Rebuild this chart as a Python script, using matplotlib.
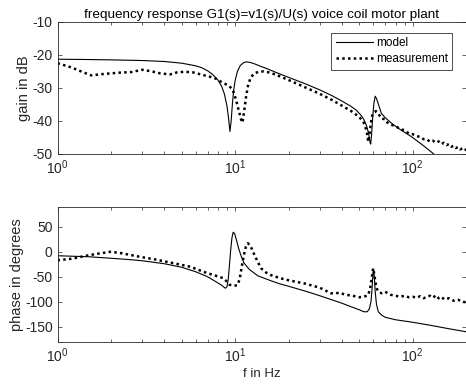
import numpy as np
import matplotlib
matplotlib.use("Agg")
import matplotlib.pyplot as plt
from matplotlib.ticker import LogLocator

plt.rcParams['font.family'] = ['Liberation Sans', 'DejaVu Sans']
plt.rcParams['axes.unicode_minus'] = False
plt.rcParams['mathtext.default'] = 'regular'

# gain, model (solid)
f_gain_model = [1, 1.5, 2, 3, 4, 5, 6, 6.5, 7, 7.5, 8, 8.4, 8.7, 9.0, 9.2, 9.35, 9.5, 9.65,
                9.8, 10.0, 10.3, 10.7, 11.2, 11.6, 12.2, 13, 14, 15, 17, 20, 25, 30, 35, 40,
                45, 48, 51, 53, 55, 56.5, 57.5, 58, 58.7, 59.5, 60.5, 61.5, 62.5, 64, 66.6,
                70, 76, 85, 98, 115, 130, 145]
gain_model = [-21.3, -21.4, -21.5, -21.7, -22.0, -22.5, -23.3, -23.9, -24.8, -26.0, -27.6,
              -29.5, -31.8, -35.5, -39.5, -43.2, -40, -35, -31, -27.8, -25, -23.2, -22.3,
              -22.1, -22.3, -22.8, -23.5, -24.1, -25.3, -26.8, -28.8, -30.6, -32.3, -34.0,
              -35.6, -36.7, -38.2, -39.5, -41.5, -43.8, -46.5, -47, -44, -39, -34.5, -32.5,
              -33.2, -34.8, -37.7, -39.0, -40.7, -42.6, -44.7, -47.5, -49.8, -51.8]

# gain, measurement (dotted)
f_gain_meas = [1, 1.2, 1.4, 1.55, 1.8, 2.2, 2.6, 3.0, 3.4, 3.8, 4.3, 4.7, 5.2, 5.8, 6.5, 7.2,
               7.8, 8.5, 9.2, 9.7, 10.1, 10.5, 10.8, 11.0, 11.25, 11.5, 11.8, 12.2, 12.8,
               13.6, 14.5, 15.5, 17, 20, 25, 30, 35, 40, 45, 50, 53, 55, 56.2, 57, 58, 59,
               60, 62, 64, 67, 70, 72, 76, 80, 85, 90, 95, 100, 105, 110, 115, 120, 125,
               130, 135, 140, 145, 150, 155, 160, 165, 170, 175, 180, 185, 190, 195, 200]
gain_meas = [-22.5, -23.8, -25.3, -26.2, -25.8, -25.4, -25.2, -24.5, -25.0, -25.6, -25.9,
             -25.3, -25.1, -25.3, -26.0, -26.6, -27.2, -28.4, -29.3, -30.5, -33.5, -37,
             -39.5, -40.5, -37, -33, -29.5, -27.0, -25.6, -25.1, -25.0, -25.3, -26, -27.6,
             -29.9, -31.8, -33.6, -35.4, -37.0, -38.8, -40.5, -43, -46.3, -44.5, -41,
             -38.5, -37.7, -37, -37.8, -39.3, -39.5, -40.5, -41.2, -41.5, -42.5, -42.8,
             -43.8, -44.0, -44.6, -44.8, -45.5, -45.5, -46.3, -46.0, -46.6, -46.2, -47.0,
             -46.6, -47.3, -47.0, -47.8, -47.5, -48.2, -47.9, -48.6, -48.3, -48.9, -48.6]

# phase, model (solid)
f_phase_model = [1, 1.5, 2, 2.5, 3, 4, 5, 6, 7, 7.8, 8.4, 8.8, 9.0, 9.15, 9.3, 9.45, 9.6,
                 9.75, 9.95, 10.2, 10.5, 10.8, 11.2, 12, 13.4, 15.9, 17.8, 20, 25, 30, 35,
                 40, 45, 50, 53, 55.5, 57, 58.2, 59, 59.7, 60.2, 60.8, 61.5, 62.5, 64, 67,
                 70, 80, 100, 130, 160, 200]
phase_model = [-8, -10, -13, -15.5, -18, -24, -31, -40, -50, -60, -67, -73, -70, -55, -25,
               5, 28, 39, 36, 22, 5, -8, -22, -35, -48, -58, -64, -69, -79, -88, -96, -103,
               -110, -116, -120, -120, -114, -100, -75, -45, -36, -50, -80, -105, -120,
               -127, -131, -136, -141, -148, -154, -160]

# phase, measurement (dotted)
f_phase_meas = [1, 1.2, 1.5, 1.75, 2.0, 2.3, 2.9, 3.5, 4.1, 4.8, 5.6, 6.3, 7.0, 7.8, 8.6,
                9.0, 9.3, 9.8, 10.3, 10.6, 10.9, 11.2, 11.5, 11.8, 12.2, 12.8, 13.4, 14, 15,
                16, 18, 20, 25, 30, 34.6, 37, 38.5, 42, 46, 50, 53, 56, 57.5, 58.6, 59.5, 60,
                60.7, 62, 63, 64.5, 67, 70, 75, 80, 85, 90, 95, 100, 105, 110, 115, 120, 125,
                130, 135, 140, 145, 150, 160, 170, 180, 190, 200]
phase_meas = [-17, -14, -7, -3, 0, -3, -10, -15, -20, -25, -30, -37, -43, -48, -53, -60, -66,
              -68, -67, -55, -30, -7, 10, 17, 12, -5, -20, -33, -42, -47, -53, -57, -64, -72,
              -83, -83, -82, -86, -88, -91, -90, -87, -75, -56, -38, -33, -45, -65, -75, -81,
              -83, -80, -86, -88, -90, -88, -91, -90, -92, -89, -93, -90, -88, -92, -87, -93,
              -90, -95, -93, -98, -96, -100, -101]

fig = plt.figure(figsize=(4.66, 3.84), dpi=100)
ax1 = fig.add_axes([0.1234, 0.599, 0.877, 0.344])
ax2 = fig.add_axes([0.1234, 0.110, 0.877, 0.3516])

gray = '#262626'
dots = (0, (1, 1.3))
for ax in (ax1, ax2):
    ax.set_xscale('log')
    ax.set_xlim(1, 200)
    ax.xaxis.set_major_locator(LogLocator(base=10))
    ax.xaxis.set_minor_locator(LogLocator(base=10, subs=np.arange(2, 10)))
    ax.tick_params(which='both', direction='in', top=True, right=True,
                   labelsize=10, colors=gray, width=0.5)
    ax.tick_params(which='major', length=3)
    ax.tick_params(which='minor', length=2)
    for s in ax.spines.values():
        s.set_color(gray)
        s.set_linewidth(0.6)

ax1.plot(f_gain_model, gain_model, color='black', lw=0.8, label='model')
ax1.plot(f_gain_meas, gain_meas, color='black', lw=1.8, ls=dots, label='measurement')
ax1.set_ylim(-50, -10)
ax1.set_yticks([-50, -40, -30, -20, -10])
ax1.set_ylabel('gain in dB', fontsize=10.5, color=gray, labelpad=1)
ax1.set_title('frequency response G1(s)=v1(s)/U(s) voice coil motor plant',
              fontsize=9.7, color='black', pad=3)
leg = ax1.legend(loc='upper right', bbox_to_anchor=(0.9665, 0.919), borderaxespad=0,
                 fontsize=8.5, frameon=True, fancybox=False, edgecolor='black',
                 handlelength=3.2, handletextpad=0.2, borderpad=0.4, labelspacing=0.3)
leg.get_frame().set_linewidth(0.6)

ax2.plot(f_phase_model, phase_model, color='black', lw=0.8)
ax2.plot(f_phase_meas, phase_meas, color='black', lw=1.8, ls=dots)
ax2.set_ylim(-180, 90)
ax2.set_yticks([-150, -100, -50, 0, 50])
ax2.set_ylabel('phase in degrees', fontsize=10.5, color=gray, labelpad=1)
ax2.set_xlabel('f in Hz', fontsize=9.5, color=gray, labelpad=2)

fig.savefig('out.png', dpi=100)
